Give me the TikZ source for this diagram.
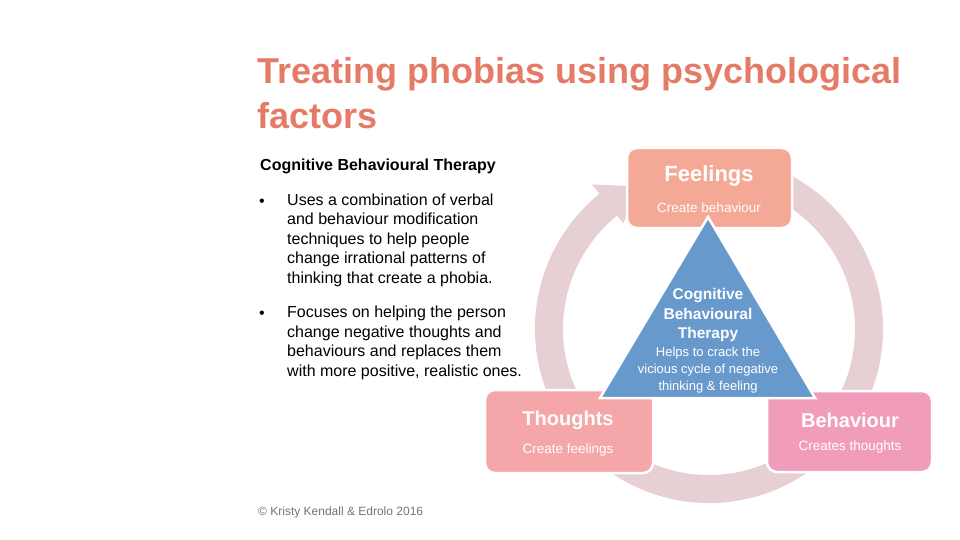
\documentclass[tikz,border=0pt]{standalone}
\usepackage{fontspec}
\setmainfont{Liberation Sans}
\definecolor{ringpink}{RGB}{230,208,211}
\definecolor{feelfill}{RGB}{244,168,150}
\definecolor{thoughtfill}{RGB}{244,166,168}
\definecolor{behavfill}{RGB}{242,156,188}
\definecolor{cbtblue}{RGB}{104,153,204}
\definecolor{titlecoral}{RGB}{229,123,102}
\begin{document}
\begin{tikzpicture}[x=1pt,y=1pt,
  box/.style={rectangle,rounded corners=10pt,draw=white,line width=2.5pt,inner sep=0pt},
  boxhead/.style={text=white,inner sep=0pt,font=\bfseries\fontsize{20}{24}\selectfont},
  boxsub/.style={text=white,inner sep=0pt,font=\fontsize{13.5}{16}\selectfont},
  body/.style={anchor=base west,inner sep=0pt,align=left,font=\fontsize{16}{19.4}\selectfont}]
\useasboundingbox (0,0) rectangle (960,-540);
% Title (base is the last line)
\node[body,text=titlecoral,font=\bfseries\fontsize{36}{45}\selectfont] (title) at (257,-129) {Treating phobias using psychological\\factors};
% Left text
\node[body,font=\bfseries\fontsize{16}{19.4}\selectfont] (cbt) at (260,-171) {Cognitive Behavioural Therapy};
\node[body] (dotone) at (259,-206) {\textbullet};
\node[body] (pointone) at (287,-283) {Uses a combination of verbal\\and behaviour modification\\techniques to help people\\change irrational patterns of\\thinking that create a phobia.};
\node[body] (dottwo) at (259,-318) {\textbullet};
\node[body] (pointtwo) at (287,-376) {Focuses on helping the person\\change negative thoughts and\\behaviours and replaces them\\with more positive, realistic ones.};
\node[body,text=black!55,font=\fontsize{12}{14}\selectfont] (copy) at (258,-515) {\textcopyright\ Kristy Kendall \& Edrolo 2016};
% Ring with arrow
\begin{scope}[shift={(709,-329)}]
\fill[ringpink] (70:174) arc[start angle=70,end angle=-231,radius=174] -- (129:186) -- (117:160) -- (129:136) -- (129:146) arc[start angle=129,end angle=430,radius=146] -- cycle;
\end{scope}
% Boxes
\node[box,fill=feelfill,minimum width=165,minimum height=80] (feel) at (709.5,-188) {};
\node[box,fill=thoughtfill,minimum width=168,minimum height=83] (thought) at (569,-431.5) {};
\node[box,fill=behavfill,minimum width=165,minimum height=81] (behav) at (849.5,-431.5) {};
\node[boxhead,font=\bfseries\fontsize{22}{26}\selectfont] (feelhead) at (709,-176) {Feelings};
\node[boxsub] (feelsub) at (709,-208) {Create behaviour};
\node[boxhead] (thoughthead) at (568,-420) {Thoughts};
\node[boxsub] (thoughtsub) at (568,-450) {Create feelings};
\node[boxhead] (behavhead) at (850,-420) {Behaviour};
\node[boxsub] (behavsub) at (850,-447) {Creates thoughts};
% Triangle
\draw[fill=cbtblue,draw=white,line width=2.5pt,line join=miter] (708,-217) coordinate (apex) -- (600,-398) coordinate (left) -- (815,-398) coordinate (right) -- cycle;
\node[text=white,align=center,inner sep=0pt,font=\bfseries\fontsize{15.5}{19.5}\selectfont] (cbthead) at (708,-315) {Cognitive\\Behavioural\\Therapy};
\node[text=white,align=center,inner sep=0pt,font=\fontsize{13}{17}\selectfont] (cbtsub) at (708,-370) {Helps to crack the\\vicious cycle of negative\\thinking \& feeling};
\end{tikzpicture}
\end{document}
